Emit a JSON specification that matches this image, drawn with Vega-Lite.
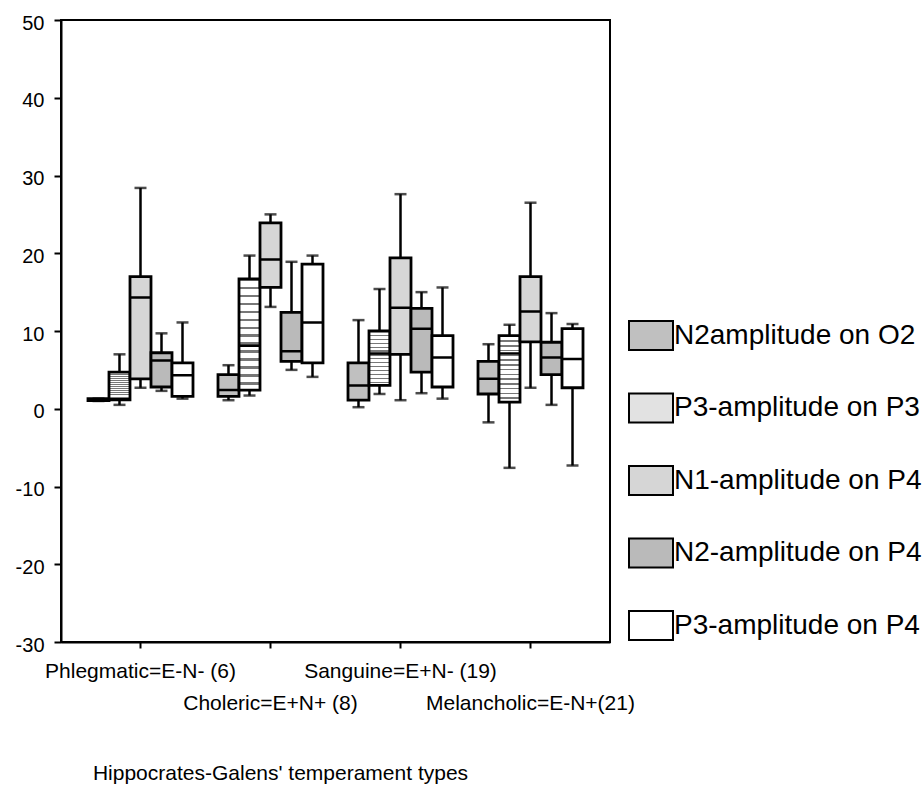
{
  "$schema": "https://vega.github.io/schema/vega-lite/v6.json",
  "autosize": "none",
  "width": 549,
  "height": 622,
  "padding": {"left": 61, "top": 20, "right": 314, "bottom": 148},
  "background": "white",
  "config": {
    "view": {"stroke": "black", "strokeWidth": 2},
    "font": "Liberation Sans",
    "axis": {"grid": false, "domainColor": "black", "domainWidth": 2, "tickColor": "black", "tickWidth": 2, "labelColor": "black", "titleColor": "black", "labelFont": "Liberation Sans", "titleFont": "Liberation Sans"}
  },
  "data": {
    "values": [
      {"group": "Phlegmatic=E-N- (6)", "var": "N2amplitude on O2", "lo": 1.0, "q1": 1.05, "med": 1.15, "q3": 1.3, "hi": 1.3},
      {"group": "Phlegmatic=E-N- (6)", "var": "P3-amplitude on P3", "lo": 0.5, "q1": 1.15, "med": 1.3, "q3": 4.7, "hi": 7.0},
      {"group": "Phlegmatic=E-N- (6)", "var": "N1-amplitude on P4", "lo": 2.7, "q1": 3.85, "med": 14.3, "q3": 17.0, "hi": 28.4},
      {"group": "Phlegmatic=E-N- (6)", "var": "N2-amplitude on P4", "lo": 2.3, "q1": 2.8, "med": 6.2, "q3": 7.2, "hi": 9.7},
      {"group": "Phlegmatic=E-N- (6)", "var": "P3-amplitude on P4", "lo": 1.3, "q1": 1.6, "med": 4.3, "q3": 5.9, "hi": 11.1},
      {"group": "Choleric=E+N+ (8)", "var": "N2amplitude on O2", "lo": 1.1, "q1": 1.6, "med": 2.4, "q3": 4.4, "hi": 5.6},
      {"group": "Choleric=E+N+ (8)", "var": "P3-amplitude on P3", "lo": 1.7, "q1": 2.4, "med": 8.1, "q3": 16.7, "hi": 19.7},
      {"group": "Choleric=E+N+ (8)", "var": "N1-amplitude on P4", "lo": 13.1, "q1": 15.6, "med": 19.2, "q3": 23.9, "hi": 25.0},
      {"group": "Choleric=E+N+ (8)", "var": "N2-amplitude on P4", "lo": 5.0, "q1": 6.1, "med": 7.4, "q3": 12.4, "hi": 18.9},
      {"group": "Choleric=E+N+ (8)", "var": "P3-amplitude on P4", "lo": 4.1, "q1": 5.9, "med": 11.1, "q3": 18.6, "hi": 19.7},
      {"group": "Sanguine=E+N- (19)", "var": "N2amplitude on O2", "lo": 0.2, "q1": 1.1, "med": 3.0, "q3": 5.9, "hi": 11.4},
      {"group": "Sanguine=E+N- (19)", "var": "P3-amplitude on P3", "lo": 1.9, "q1": 3.0, "med": 7.1, "q3": 10.0, "hi": 15.4},
      {"group": "Sanguine=E+N- (19)", "var": "N1-amplitude on P4", "lo": 1.1, "q1": 7.0, "med": 13.0, "q3": 19.4, "hi": 27.6},
      {"group": "Sanguine=E+N- (19)", "var": "N2-amplitude on P4", "lo": 2.0, "q1": 4.7, "med": 10.3, "q3": 12.9, "hi": 15.0},
      {"group": "Sanguine=E+N- (19)", "var": "P3-amplitude on P4", "lo": 1.3, "q1": 2.8, "med": 6.6, "q3": 9.4, "hi": 15.6},
      {"group": "Melancholic=E-N+(21)", "var": "N2amplitude on O2", "lo": -1.75, "q1": 1.9, "med": 3.85, "q3": 6.1, "hi": 8.3},
      {"group": "Melancholic=E-N+(21)", "var": "P3-amplitude on P3", "lo": -7.6, "q1": 0.85, "med": 7.1, "q3": 9.4, "hi": 10.8},
      {"group": "Melancholic=E-N+(21)", "var": "N1-amplitude on P4", "lo": 2.7, "q1": 8.6, "med": 12.5, "q3": 17.0, "hi": 26.5},
      {"group": "Melancholic=E-N+(21)", "var": "N2-amplitude on P4", "lo": 0.5, "q1": 4.4, "med": 6.6, "q3": 8.55, "hi": 12.3},
      {"group": "Melancholic=E-N+(21)", "var": "P3-amplitude on P4", "lo": -7.3, "q1": 2.7, "med": 6.4, "q3": 10.3, "hi": 10.9}
    ]
  },
  "encoding": {
    "x": {
      "field": "group", "type": "nominal",
      "sort": ["Phlegmatic=E-N- (6)", "Choleric=E+N+ (8)", "Sanguine=E+N- (19)", "Melancholic=E-N+(21)"],
      "scale": {"paddingInner": 0, "paddingOuter": 0.1115},
      "axis": {
        "labelAngle": 0, "labelFontSize": 21, "labelLineHeight": 32, "tickSize": 6, "labelPadding": 12,
        "labelExpr": "test(/Choleric|Melanch/, datum.value) ? ['', datum.label] : datum.label",
        "labelLimit": 400,
        "title": "Hippocrates-Galens' temperament types",
        "titleFontSize": 21, "titleFontWeight": "normal", "titleX": 219, "titleY": 137, "titleAlign": "center", "titleBaseline": "alphabetic"
      }
    },
    "xOffset": {
      "field": "var", "type": "nominal",
      "sort": ["N2amplitude on O2", "P3-amplitude on P3", "N1-amplitude on P4", "N2-amplitude on P4", "P3-amplitude on P4"],
      "scale": {"paddingInner": 0, "paddingOuter": 0.595}
    }
  },
  "layer": [
    {
      "mark": {"type": "rule", "color": "black", "strokeWidth": 2.5},
      "encoding": {
        "y": {"field": "lo", "type": "quantitative", "scale": {"domain": [-30, 50], "nice": false, "zero": false},
          "axis": {"values": [-30, -20, -10, 0, 10, 20, 30, 40, 50], "labelExpr": "'' + datum.value", "labelFontSize": 20, "tickSize": 7, "labelPadding": 10, "labelBaseline": "middle", "labelOffset": 3, "title": null}},
        "y2": {"field": "hi"}
      }
    },
    {
      "mark": {"type": "tick", "color": "black", "thickness": 2.5, "size": 12, "orient": "horizontal"},
      "encoding": {"y": {"field": "lo", "type": "quantitative"}}
    },
    {
      "mark": {"type": "tick", "color": "black", "thickness": 2.5, "size": 12, "orient": "horizontal"},
      "encoding": {"y": {"field": "hi", "type": "quantitative"}}
    },
    {
      "mark": {"type": "bar", "stroke": "black", "strokeWidth": 2.8, "opacity": 1},
      "encoding": {
        "y": {"field": "q1", "type": "quantitative"},
        "y2": {"field": "q3"},
        "fill": {
          "condition": {"test": "datum['var'] === 'P3-amplitude on P3'",
            "value": {"gradient": "linear", "x1": 0, "y1": 0, "x2": 0, "y2": 1, "stops": [
                {"offset": 0.0, "color": "#ffffff"}, {"offset": 0.0, "color": "#777777"}, {"offset": 0.022, "color": "#777777"}, {"offset": 0.022, "color": "#ffffff"},
                {"offset": 0.0714, "color": "#ffffff"}, {"offset": 0.0714, "color": "#777777"}, {"offset": 0.0934, "color": "#777777"}, {"offset": 0.0934, "color": "#ffffff"},
                {"offset": 0.1429, "color": "#ffffff"}, {"offset": 0.1429, "color": "#777777"}, {"offset": 0.1649, "color": "#777777"}, {"offset": 0.1649, "color": "#ffffff"},
                {"offset": 0.2143, "color": "#ffffff"}, {"offset": 0.2143, "color": "#777777"}, {"offset": 0.2363, "color": "#777777"}, {"offset": 0.2363, "color": "#ffffff"},
                {"offset": 0.2857, "color": "#ffffff"}, {"offset": 0.2857, "color": "#777777"}, {"offset": 0.3077, "color": "#777777"}, {"offset": 0.3077, "color": "#ffffff"},
                {"offset": 0.3571, "color": "#ffffff"}, {"offset": 0.3571, "color": "#777777"}, {"offset": 0.3791, "color": "#777777"}, {"offset": 0.3791, "color": "#ffffff"},
                {"offset": 0.4286, "color": "#ffffff"}, {"offset": 0.4286, "color": "#777777"}, {"offset": 0.4506, "color": "#777777"}, {"offset": 0.4506, "color": "#ffffff"},
                {"offset": 0.5, "color": "#ffffff"}, {"offset": 0.5, "color": "#777777"}, {"offset": 0.522, "color": "#777777"}, {"offset": 0.522, "color": "#ffffff"},
                {"offset": 0.5714, "color": "#ffffff"}, {"offset": 0.5714, "color": "#777777"}, {"offset": 0.5934, "color": "#777777"}, {"offset": 0.5934, "color": "#ffffff"},
                {"offset": 0.6429, "color": "#ffffff"}, {"offset": 0.6429, "color": "#777777"}, {"offset": 0.6649, "color": "#777777"}, {"offset": 0.6649, "color": "#ffffff"},
                {"offset": 0.7143, "color": "#ffffff"}, {"offset": 0.7143, "color": "#777777"}, {"offset": 0.7363, "color": "#777777"}, {"offset": 0.7363, "color": "#ffffff"},
                {"offset": 0.7857, "color": "#ffffff"}, {"offset": 0.7857, "color": "#777777"}, {"offset": 0.8077, "color": "#777777"}, {"offset": 0.8077, "color": "#ffffff"},
                {"offset": 0.8571, "color": "#ffffff"}, {"offset": 0.8571, "color": "#777777"}, {"offset": 0.8791, "color": "#777777"}, {"offset": 0.8791, "color": "#ffffff"},
                {"offset": 0.9286, "color": "#ffffff"}, {"offset": 0.9286, "color": "#777777"}, {"offset": 0.9506, "color": "#777777"}, {"offset": 0.9506, "color": "#ffffff"},
                {"offset": 1.0, "color": "#ffffff"}
              ]}},
          "field": "var", "type": "nominal",
          "sort": ["N2amplitude on O2", "P3-amplitude on P3", "N1-amplitude on P4", "N2-amplitude on P4", "P3-amplitude on P4"],
          "scale": {"domain": ["N2amplitude on O2", "P3-amplitude on P3", "N1-amplitude on P4", "N2-amplitude on P4", "P3-amplitude on P4"],
            "range": ["#c0c0c0", "#e2e2e2", "#d6d6d6", "#bababa", "#ffffff"]},
          "legend": {
            "orient": "none", "legendX": 567, "legendY": 292.5, "title": null, "padding": 0,
            "symbolType": "M-1,-0.66H1V0.66H-1Z", "symbolSize": 1936, "symbolStrokeColor": "black", "symbolStrokeWidth": 2, "symbolOpacity": 1,
            "labelFontSize": 28, "labelFont": "Liberation Sans", "labelColor": "black", "labelOffset": 0, "rowPadding": 30.5, "labelLimit": 400,
            "encode": {"symbols": {"update": {
              "stroke": {"value": "black"},
              "strokeWidth": {"value": 2},
              "opacity": {"value": 1},
              "fill": [
              {"test": "datum.label === 'P3-amplitude on P3'", "value": {"gradient": "linear", "x1": 0, "y1": 0, "x2": 0, "y2": 1, "stops": [
                {"offset": 0.0, "color": "#ffffff"}, {"offset": 0.06, "color": "#ffffff"}, {"offset": 0.06, "color": "#666666"}, {"offset": 0.095, "color": "#666666"}, {"offset": 0.095, "color": "#ffffff"},
                {"offset": 0.185, "color": "#ffffff"}, {"offset": 0.185, "color": "#666666"}, {"offset": 0.22, "color": "#666666"}, {"offset": 0.22, "color": "#ffffff"},
                {"offset": 0.31, "color": "#ffffff"}, {"offset": 0.31, "color": "#666666"}, {"offset": 0.345, "color": "#666666"}, {"offset": 0.345, "color": "#ffffff"},
                {"offset": 0.435, "color": "#ffffff"}, {"offset": 0.435, "color": "#666666"}, {"offset": 0.47, "color": "#666666"}, {"offset": 0.47, "color": "#ffffff"},
                {"offset": 0.56, "color": "#ffffff"}, {"offset": 0.56, "color": "#666666"}, {"offset": 0.595, "color": "#666666"}, {"offset": 0.595, "color": "#ffffff"},
                {"offset": 0.685, "color": "#ffffff"}, {"offset": 0.685, "color": "#666666"}, {"offset": 0.72, "color": "#666666"}, {"offset": 0.72, "color": "#ffffff"},
                {"offset": 0.81, "color": "#ffffff"}, {"offset": 0.81, "color": "#666666"}, {"offset": 0.845, "color": "#666666"}, {"offset": 0.845, "color": "#ffffff"},
                {"offset": 0.935, "color": "#ffffff"}, {"offset": 0.935, "color": "#666666"}, {"offset": 0.97, "color": "#666666"}, {"offset": 0.97, "color": "#ffffff"},
                {"offset": 1.0, "color": "#ffffff"}
              ]}},
              {"scale": "fill", "field": "value"}
            ]}}}
          }
        }
      }
    },
    {
      "mark": {"type": "bar", "stroke": "black", "strokeWidth": 2.5, "fillOpacity": 0},
      "encoding": {
        "y": {"field": "med", "type": "quantitative"},
        "y2": {"field": "med"}
      }
    }
  ]
}
